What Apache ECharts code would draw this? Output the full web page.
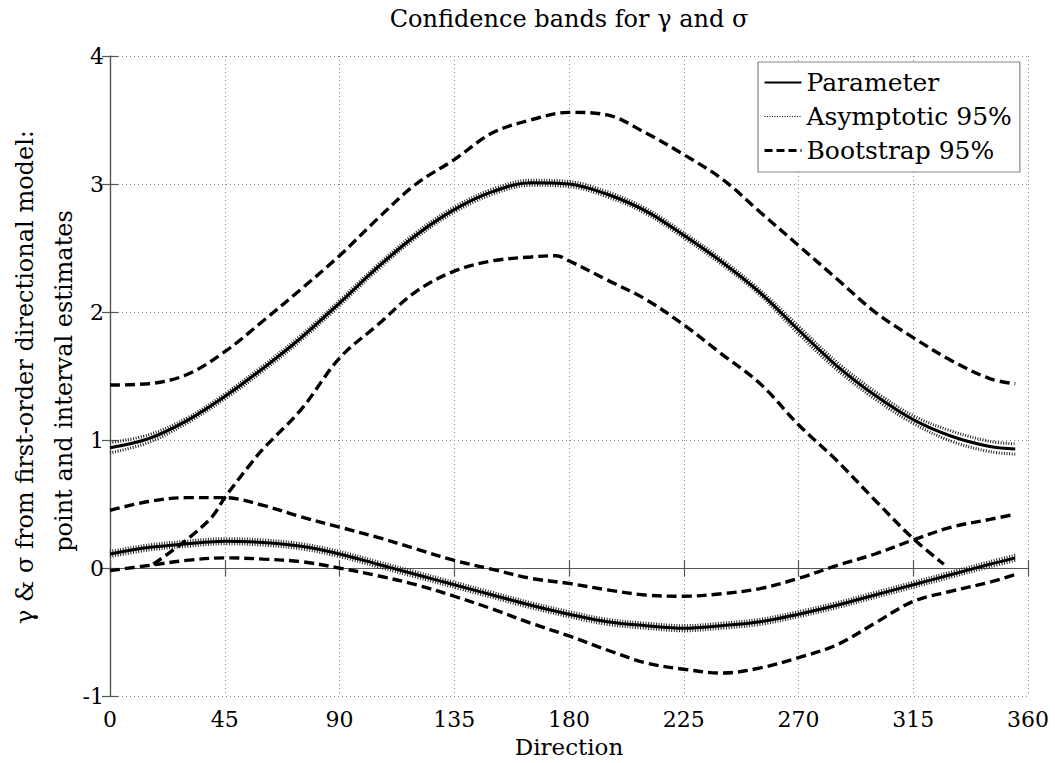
<!DOCTYPE html>
<html>
<head>
<meta charset="utf-8">
<script src="https://cdn.jsdelivr.net/npm/echarts@6/dist/echarts.min.js"></script>
<style>html,body{margin:0;padding:0;background:#fff;}#chart{width:1055px;height:763px;}</style>
</head>
<body>
<div id="chart"></div>
<script>
// Direction grid shared by most series (degrees)
const directions = [0,15,30,45,60,75,90,105,120,135,150,165,180,195,210,225,240,255,270,285,300,315,330,345,355];
// Gamma (upper group)
const gammaParam      = [0.94,1.01,1.15,1.34,1.56,1.80,2.07,2.35,2.60,2.80,2.94,3.01,3.00,2.92,2.79,2.60,2.39,2.15,1.86,1.58,1.35,1.16,1.03,0.95,0.93];
const gammaAsymUpper  = [0.98,1.04,1.17,1.36,1.58,1.82,2.09,2.37,2.62,2.82,2.96,3.03,3.02,2.94,2.81,2.62,2.41,2.17,1.89,1.61,1.38,1.19,1.07,0.99,0.97];
const gammaAsymLower  = [0.90,0.98,1.13,1.32,1.54,1.78,2.05,2.33,2.58,2.78,2.92,2.99,2.98,2.90,2.77,2.58,2.37,2.13,1.83,1.55,1.32,1.13,0.99,0.91,0.89];
const gammaBootUpper  = [1.43,1.44,1.51,1.69,1.93,2.18,2.44,2.73,3.00,3.19,3.40,3.50,3.56,3.54,3.40,3.23,3.04,2.78,2.52,2.26,2.00,1.80,1.62,1.48,1.44];
const gammaBootLowerDir = [17,30,40,45,55,60,75,90,105,120,135,150,165,175,180,195,210,225,240,255,270,285,300,315,327];
const gammaBootLower  = [0.03,0.22,0.40,0.55,0.81,0.93,1.24,1.64,1.90,2.16,2.32,2.40,2.43,2.44,2.40,2.25,2.10,1.90,1.67,1.44,1.12,0.84,0.53,0.23,0.03];
// Sigma (lower group)
const sigmaParam      = [0.11,0.16,0.19,0.21,0.20,0.17,0.11,0.03,-0.05,-0.13,-0.21,-0.29,-0.36,-0.42,-0.45,-0.47,-0.45,-0.42,-0.36,-0.29,-0.21,-0.13,-0.05,0.03,0.08];
const sigmaAsymUpper  = [0.13,0.18,0.21,0.23,0.22,0.19,0.13,0.05,-0.03,-0.11,-0.19,-0.27,-0.34,-0.40,-0.43,-0.45,-0.43,-0.40,-0.34,-0.27,-0.19,-0.11,-0.03,0.05,0.10];
const sigmaAsymLower  = [0.09,0.14,0.17,0.19,0.18,0.15,0.09,0.01,-0.07,-0.15,-0.23,-0.31,-0.38,-0.44,-0.47,-0.49,-0.47,-0.44,-0.38,-0.31,-0.23,-0.15,-0.07,0.01,0.06];
const sigmaBootUpper  = [0.45,0.52,0.55,0.55,0.49,0.40,0.32,0.24,0.15,0.06,-0.01,-0.08,-0.12,-0.17,-0.21,-0.22,-0.20,-0.16,-0.08,0.02,0.11,0.22,0.32,0.38,0.42];
const sigmaBootLower  = [-0.02,0.02,0.06,0.08,0.07,0.05,0.00,-0.06,-0.13,-0.22,-0.32,-0.43,-0.53,-0.64,-0.74,-0.79,-0.82,-0.78,-0.70,-0.60,-0.43,-0.26,-0.18,-0.11,-0.05];
// Axis ticks
const xTicks = [0,45,90,135,180,225,270,315,360];
const yTicks = [-1,0,1,2,3,4];

const FONT = '"DejaVu Serif", "Liberation Serif", serif';
const zip = (xs, ys) => xs.map((x, i) => [x, ys[i]]);

const solid = {color:'#000', width:3, type:'solid'};
const hatch = {color:'#222', width:3, type:[1,1.6]};
const dashed = {color:'#000', width:3.4, type:[10,5]};

function line(name, xs, ys, ls, z) {
  return {name, type:'line', data: zip(xs, ys), symbol:'none', showSymbol:false,
    smooth:0.35, lineStyle: ls, itemStyle:{color:'#000'}, z: z, silent:true, animation:false,
    xAxisIndex:0, yAxisIndex:0};
}

const axisCommon = {
  axisLine:{show:true, lineStyle:{color:'#555', width:1.2}},
  axisTick:{show:true, inside:true, length:8, lineStyle:{color:'#555', width:1.2}},
};

const chart = echarts.init(document.getElementById('chart'), null, {renderer:'svg'});
chart.setOption({
  backgroundColor:'#fff',
  animation:false,
  title:{text:'Confidence bands for γ and σ', top:7, left:569, textAlign:'center', padding:0,
    textStyle:{fontFamily:FONT, fontSize:24, fontWeight:'normal', color:'#000'}},
  grid:{left:110, right:27, top:56, bottom:63, show:false},
  legend:{
    data:[
      {name:'Parameter'},
      {name:'Asymptotic 95%', lineStyle:{width:1, type:[1,1.5], color:'#000'}},
      {name:'Bootstrap 95%', lineStyle:{width:3, type:[8,4], color:'#000'}}
    ],
    orient:'vertical', left:758, top:62,
    backgroundColor:'#fff', borderColor:'#888', borderWidth:1.2,
    padding:[8,8,9,5], itemGap:9, itemWidth:37, itemHeight:20,
    itemStyle:{color:'rgba(0,0,0,0)', borderColor:'rgba(0,0,0,0)', borderWidth:0, opacity:0},
    textStyle:{fontFamily:FONT, fontSize:25, color:'#000'},
    selectedMode:false
  },
  xAxis:[
    Object.assign({type:'value', min:0, max:360, interval:45, position:'bottom',
      name:'Direction', nameLocation:'middle', nameGap:33,
      nameTextStyle:{fontFamily:FONT, fontSize:23, color:'#000'},
      axisLabel:{fontFamily:FONT, fontSize:22, color:'#000', margin:12,
        formatter: v => xTicks.includes(v) ? String(v) : ''},
      splitLine:{show:true, lineStyle:{color:'#888', width:1, type:[1,3]}}}, axisCommon),
    Object.assign({type:'value', min:0, max:360, interval:45, position:'top',
      axisLabel:{show:false}, splitLine:{show:false}}, axisCommon)
  ],
  yAxis:[
    Object.assign({type:'value', min:-1, max:4, interval:1, position:'left',
      axisLabel:{fontFamily:FONT, fontSize:22, color:'#000', margin:6,
        formatter: v => yTicks.includes(v) ? String(v) : ''},
      splitLine:{show:true, lineStyle:{color:'#888', width:1, type:[1,3]}}}, axisCommon),
    Object.assign({type:'value', min:-1, max:4, interval:1, position:'right',
      axisLabel:{show:false}, splitLine:{show:false}}, axisCommon)
  ],
  graphic:[
    {type:'text', x:25, y:377, rotation:Math.PI/2,
      style:{text:'γ & σ from first-order directional model:', fontFamily:FONT, fontSize:24,
        fill:'#000', textAlign:'center', textVerticalAlign:'middle'}},
    {type:'text', x:64, y:381, rotation:Math.PI/2,
      style:{text:'point and interval estimates', fontFamily:FONT, fontSize:24,
        fill:'#000', textAlign:'center', textVerticalAlign:'middle'}}
  ],
  series:[
    line('Parameter', directions, gammaParam, solid, 5),
    line('Asymptotic 95%', directions, gammaAsymUpper, hatch, 4),
    line('Bootstrap 95%', directions, gammaBootUpper, dashed, 6),
    line('Asymptotic 95%', directions, gammaAsymLower, hatch, 4),
    line('Bootstrap 95%', gammaBootLowerDir, gammaBootLower, dashed, 6),
    line('Parameter', directions, sigmaParam, solid, 5),
    line('Asymptotic 95%', directions, sigmaAsymUpper, hatch, 4),
    line('Asymptotic 95%', directions, sigmaAsymLower, hatch, 4),
    line('Bootstrap 95%', directions, sigmaBootUpper, dashed, 6),
    line('Bootstrap 95%', directions, sigmaBootLower, dashed, 6)
  ]
});
</script>
</body>
</html>
